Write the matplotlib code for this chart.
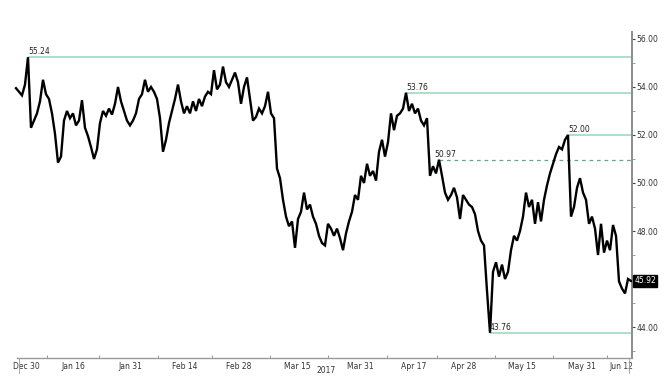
import numpy as np
import matplotlib
matplotlib.use("Agg")
import matplotlib.pyplot as plt
from matplotlib.ticker import FixedLocator, FixedFormatter
import matplotlib.transforms as mtransforms

# ---- data ----
prices = [
    53.95, 53.8, 53.65, 54.1, 55.24, 52.3, 52.6, 52.9, 53.4, 54.3,
    53.7, 53.5, 52.9, 52.05, 50.85, 51.1, 52.6, 53.0, 52.7, 52.9,
    52.4, 52.6, 53.45, 52.3, 51.95, 51.5, 51.0, 51.4, 52.5, 53.0,
    52.8, 53.1, 52.85, 53.3, 54.0, 53.4, 53.0, 52.6, 52.4, 52.6,
    52.9, 53.5, 53.7, 54.3, 53.8, 54.0, 53.8, 53.5, 52.7, 51.3,
    51.8, 52.5, 53.0, 53.5, 54.1, 53.4, 52.9, 53.2, 52.9, 53.4,
    53.0, 53.5, 53.2, 53.6, 53.8, 53.7, 54.7, 53.9, 54.1, 54.85,
    54.2, 54.0, 54.3, 54.6, 54.2, 53.3, 54.0, 54.4, 53.5, 52.6,
    52.75, 53.1, 52.9, 53.2, 53.8, 52.9, 52.7, 50.6, 50.2, 49.3,
    48.6, 48.2, 48.4, 47.3, 48.5, 48.8, 49.6, 48.9, 49.1, 48.6,
    48.3, 47.8, 47.5, 47.4, 48.3, 48.1, 47.8, 48.1, 47.7, 47.2,
    47.9, 48.4, 48.8, 49.5, 49.3, 50.3, 50.0, 50.8, 50.3, 50.5,
    50.1, 51.3, 51.8, 51.1, 51.7, 52.9, 52.2, 52.8, 52.9, 53.1,
    53.76, 53.0, 53.3, 52.9, 53.1, 52.6, 52.4, 52.7, 50.3, 50.7,
    50.4, 50.97, 50.3, 49.6, 49.3, 49.5, 49.8, 49.4, 48.5, 49.5,
    49.3, 49.1, 49.0, 48.7, 48.0, 47.6, 47.4, 45.5, 43.76, 46.3,
    46.7, 46.1, 46.6, 46.0, 46.3, 47.2, 47.8, 47.6, 48.0, 48.6,
    49.6, 49.0, 49.3, 48.3, 49.2, 48.4, 49.3, 49.9, 50.4, 50.8,
    51.2, 51.5, 51.4, 51.8, 52.0, 48.6, 49.0, 49.8, 50.2, 49.6,
    49.3, 48.3, 48.6, 48.1, 47.0, 48.3, 47.1, 47.6, 47.2, 48.25,
    47.8, 45.9, 45.6, 45.4, 46.0, 45.92,
]
date_labels = ["Dec 30", "Jan 16", "Jan 31", "Feb 14", "Feb 28", "Mar 15",
               "Mar 31", "Apr 17", "Apr 28", "May 15", "May 31", "Jun 12"]
year_label = "2017"
solid_levels = [55.24, 53.76, 52.00, 43.76]
dashed_level = 50.97
y_major = [44, 46, 48, 50, 52, 54, 56]
y_major_labels = ["44.00", "", "48.00", "50.00", "52.00", "54.00", "56.00"]
y_minor = [43, 45, 47, 49, 51, 53, 55]
last_value = 45.92

# ---- layout (index units) ----
label_pos = [3.33, 19, 38, 56.33, 74.33, 93.67, 114.67, 132.67, 149.33, 168.67, 188.67, 201.7]
bound_pos = [10.33, 27.67, 47.33, 65.33, 84.67, 104, 123.67, 140.33, 159.67, 179, 197]
long_ticks = [1.0, 204.3]
year_pos = 103.3

prices = np.array(prices)
x = np.arange(len(prices))


def level_index(level):
    idx = np.where(np.abs(prices - level) < 0.005)[0]
    if len(idx):
        return int(idx[-1])
    return int(np.argmin(np.abs(prices - level)))


fig = plt.figure(figsize=(6.66, 3.83), dpi=100)
ax = fig.add_axes([12 / 666, 25 / 383, 620 / 666, 326 / 383])
xlim = (-1.33, 205.33)
ax.set_xlim(*xlim)
ax.set_ylim(42.71, 56.29)

green = "#a6dcc6"
for lvl in solid_levels:
    i0 = level_index(lvl)
    ax.hlines(lvl, i0, xlim[1], color=green, lw=1.3, zorder=1)
    ax.text(i0, lvl + 0.03, f"{lvl:.2f}", fontsize=5.5, ha="left", va="bottom",
            color="#222222", zorder=4)
i0 = level_index(dashed_level)
ax.hlines(dashed_level, i0, xlim[1], color="#5fa896", lw=0.9,
          linestyles=(0, (3, 3)), zorder=1)
ax.text(i0 - 1.5, dashed_level + 0.03, f"{dashed_level:.2f}", fontsize=5.5,
        ha="left", va="bottom", color="#222222", zorder=4)

ax.plot(x, prices, color="black", lw=1.7, zorder=3, solid_joinstyle="miter")

# spines
for s in ["left", "top"]:
    ax.spines[s].set_visible(False)
ax.spines["right"].set_color("#8c8c8c")
ax.spines["right"].set_linewidth(1.4)
ax.spines["bottom"].set_color("#9a9a9a")
ax.spines["bottom"].set_linewidth(1.0)
ax.spines["bottom"].set_bounds(0.33, xlim[1])

# y axis on right
ax.yaxis.tick_right()
ax.yaxis.set_major_locator(FixedLocator(y_major))
ax.yaxis.set_major_formatter(FixedFormatter(y_major_labels))
ax.yaxis.set_minor_locator(FixedLocator(y_minor))
ax.tick_params(axis="y", which="major", direction="out", length=2.5, width=0.8,
               color="#444444", labelsize=5.5, labelcolor="#333333", pad=0.8)
ax.tick_params(axis="y", which="minor", direction="out", length=2, width=0.6,
               color="#8c8c8c")

# x axis
ax.xaxis.set_major_locator(FixedLocator(label_pos))
ax.set_xticklabels(date_labels)
ax.xaxis.set_minor_locator(FixedLocator(bound_pos))
ax.tick_params(axis="x", which="major", length=0, labelsize=5.5,
               labelcolor="#333333", pad=3)
ax.tick_params(axis="x", which="minor", direction="in", length=2, width=0.6,
               color="#8c8c8c")

trans = mtransforms.blended_transform_factory(ax.transData, ax.transAxes)
for p in long_ticks:
    ax.plot([p, p], [0, -0.045], transform=trans, color="#9a9a9a", lw=0.6,
            clip_on=False)
ax.text(year_pos, -0.037, year_label, transform=trans, fontsize=5.5,
        ha="center", va="center", color="#333333")

# last value box
transy = mtransforms.blended_transform_factory(ax.transAxes, ax.transData)
ax.text(1.004, last_value, f"{last_value:.2f}", transform=transy, fontsize=5.5,
        ha="left", va="center", color="white",
        bbox=dict(boxstyle="square,pad=0.15", fc="black", ec="black"))

fig.savefig("out.png", dpi=100)
